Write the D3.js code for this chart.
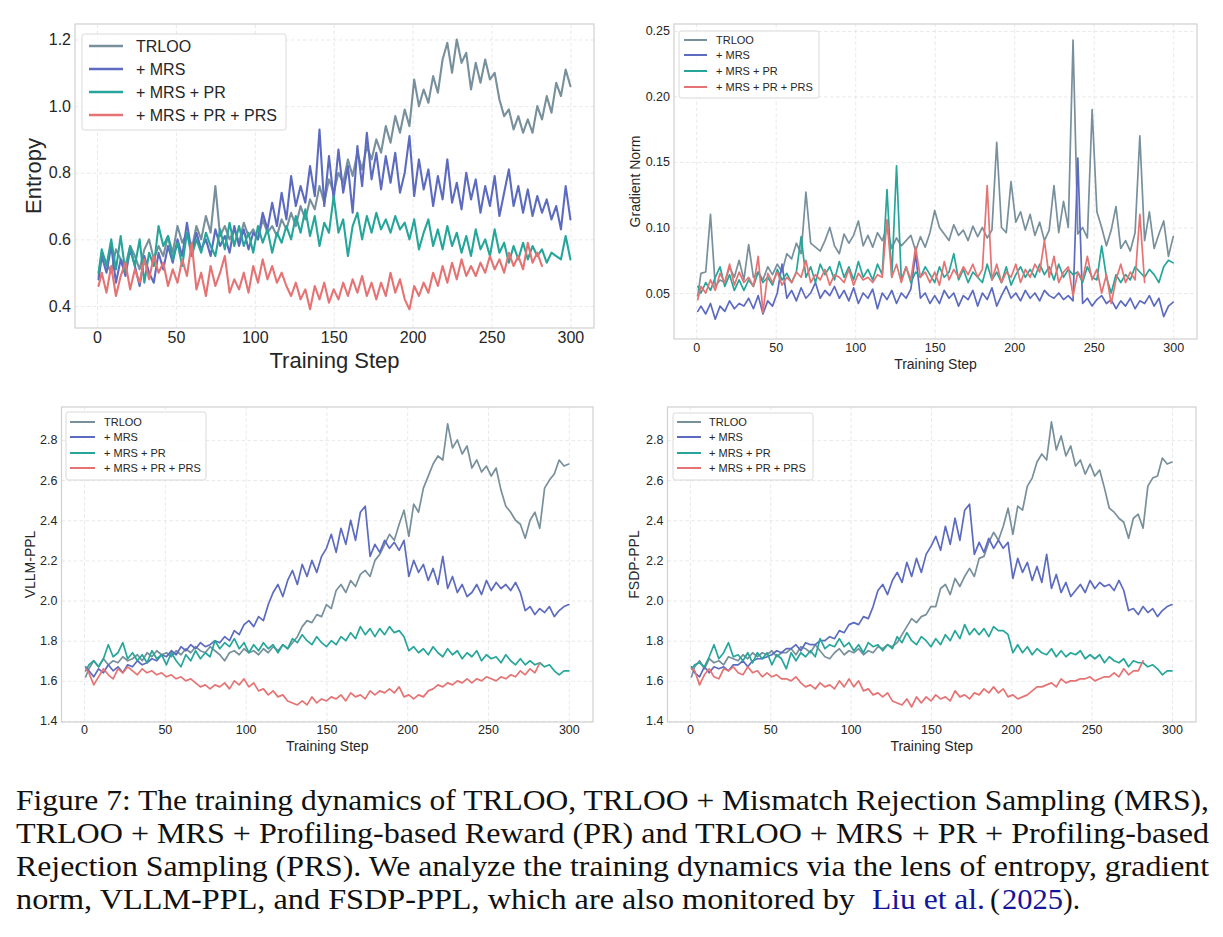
<!DOCTYPE html>
<html><head><meta charset="utf-8">
<script src="https://cdn.jsdelivr.net/npm/d3@7/dist/d3.min.js"></script>
<style>body{margin:0;background:#fff;} svg{display:block;}</style>
</head><body><svg id="c" width="1223" height="937"></svg>
<script>
// ---------- data ----------
const steps = [1,3,6,9,12,15,18,21,24,27, 30,33,36,39,42,45,48,51,54,57, 60,63,66,69,72,75,78,81,84,87, 90,93,96,99,102,105,108,111,114,117,
  120,123,126,129,132,135,138,141,144,147, 150,153,156,159,162,165,168,171,174,177, 180,183,186,189,192,195,198,201,204,207,
  210,213,216,219,222,225,228,231,234,237, 240,243,246,249,252,255,258,261,264,267, 270,273,276,279,282,285,288,291,294,297, 300];
const seriesNames = ["TRLOO", "+ MRS", "+ MRS + PR", "+ MRS + PR + PRS"];
const xTickValues = [0, 50, 100, 150, 200, 250, 300];

// Entropy
const entTRLOO = [0.49,0.56,0.53,0.50,0.57,0.54,0.52,0.58,0.55,0.51, 0.57,0.60,0.54,0.58,0.55,0.61,0.56,0.64,0.59,0.62,
  0.57,0.64,0.60,0.67,0.62,0.76,0.61,0.64,0.60,0.63, 0.59,0.65,0.61,0.63,0.60,0.66,0.62,0.64,0.61,0.66,
  0.63,0.68,0.64,0.70,0.66,0.72,0.69,0.76,0.71,0.78, 0.74,0.80,0.77,0.84,0.79,0.86,0.81,0.88,0.84,0.90,
  0.86,0.94,0.89,0.97,0.92,0.99,0.94,1.08,1.00,1.05, 1.01,1.09,1.04,1.14,1.19,1.10,1.20,1.13,1.16,1.05,
  1.13,1.07,1.14,1.08,1.10,1.02,0.97,0.99,0.93,0.97, 0.92,0.96,0.92,1.00,0.96,1.03,0.98,1.07,1.03,1.11, 1.06];
const entMRS = [0.48,0.55,0.50,0.58,0.47,0.54,0.49,0.57,0.52,0.46, 0.55,0.50,0.47,0.56,0.51,0.58,0.53,0.60,0.55,0.65,
  0.56,0.62,0.57,0.60,0.55,0.63,0.58,0.61,0.56,0.64, 0.58,0.63,0.57,0.62,0.60,0.68,0.63,0.71,0.64,0.74,
  0.66,0.79,0.70,0.76,0.71,0.82,0.73,0.93,0.70,0.85, 0.72,0.87,0.74,0.82,0.68,0.88,0.76,0.92,0.78,0.86,
  0.75,0.85,0.77,0.86,0.74,0.80,0.91,0.73,0.84,0.75, 0.81,0.70,0.79,0.72,0.84,0.71,0.77,0.69,0.80,0.72,
  0.78,0.68,0.76,0.70,0.79,0.67,0.74,0.81,0.70,0.76, 0.68,0.75,0.67,0.73,0.68,0.72,0.66,0.70,0.63,0.76, 0.66];
const entPR = [0.50,0.57,0.52,0.60,0.51,0.61,0.50,0.58,0.52,0.60, 0.47,0.56,0.52,0.64,0.58,0.61,0.54,0.59,0.52,0.62,
  0.55,0.60,0.56,0.62,0.58,0.55,0.63,0.57,0.65,0.58, 0.64,0.58,0.62,0.56,0.64,0.59,0.63,0.56,0.62,0.59,
  0.64,0.60,0.67,0.62,0.69,0.61,0.67,0.58,0.65,0.62, 0.73,0.62,0.66,0.55,0.64,0.68,0.60,0.67,0.62,0.68,
  0.63,0.66,0.62,0.67,0.63,0.65,0.60,0.66,0.57,0.62, 0.66,0.58,0.63,0.57,0.64,0.58,0.62,0.56,0.61,0.55,
  0.63,0.57,0.60,0.55,0.63,0.56,0.59,0.53,0.58,0.54, 0.59,0.54,0.58,0.55,0.57,0.53,0.56,0.55,0.54,0.61, 0.54];
const entPRS = [0.46,0.50,0.44,0.52,0.43,0.49,0.53,0.45,0.51,0.47, 0.54,0.48,0.55,0.50,0.53,0.46,0.51,0.47,0.54,0.49,
  0.59,0.45,0.50,0.43,0.52,0.46,0.50,0.55,0.44,0.48, 0.45,0.50,0.44,0.52,0.47,0.54,0.48,0.52,0.47,0.50,
  0.46,0.43,0.47,0.42,0.45,0.39,0.46,0.42,0.47,0.41, 0.45,0.42,0.47,0.43,0.48,0.44,0.49,0.43,0.47,0.42,
  0.47,0.43,0.50,0.44,0.48,0.42,0.39,0.46,0.43,0.47, 0.44,0.50,0.46,0.52,0.47,0.53,0.48,0.54,0.49,0.52,
  0.49,0.53,0.50,0.55,0.51,0.54,0.50,0.56,0.52,0.55, 0.51,0.59,0.53,0.56,0.52];

// Gradient norm
const gnTRLOO = [0.048,0.065,0.066,0.110,0.055,0.060,0.058,0.070,0.062,0.075, 0.060,0.087,0.062,0.066,0.060,0.070,0.064,0.072,0.066,0.080,
  0.076,0.088,0.080,0.127,0.088,0.085,0.082,0.090,0.100,0.086, 0.080,0.095,0.088,0.094,0.105,0.086,0.094,0.085,0.096,0.090,
  0.100,0.084,0.092,0.086,0.090,0.094,0.082,0.093,0.085,0.096, 0.113,0.100,0.095,0.090,0.102,0.094,0.098,0.090,0.101,0.093,
  0.100,0.092,0.098,0.165,0.100,0.096,0.135,0.104,0.112,0.098, 0.110,0.094,0.104,0.090,0.098,0.132,0.096,0.120,0.100,0.243,
  0.095,0.100,0.092,0.190,0.112,0.100,0.086,0.098,0.116,0.084, 0.090,0.082,0.096,0.170,0.090,0.112,0.084,0.095,0.105,0.078, 0.093];
const gnMRS = [0.036,0.040,0.034,0.042,0.030,0.040,0.036,0.044,0.038,0.042, 0.040,0.046,0.038,0.048,0.034,0.044,0.040,0.050,0.072,0.046,
  0.052,0.044,0.054,0.046,0.050,0.058,0.046,0.052,0.048,0.055, 0.046,0.052,0.044,0.054,0.042,0.050,0.046,0.053,0.038,0.050,
  0.045,0.052,0.042,0.050,0.046,0.053,0.080,0.046,0.050,0.042, 0.048,0.042,0.052,0.046,0.050,0.040,0.048,0.045,0.052,0.040,
  0.050,0.045,0.054,0.040,0.048,0.055,0.046,0.050,0.044,0.052, 0.046,0.050,0.044,0.052,0.048,0.046,0.050,0.045,0.048,0.044,
  0.153,0.042,0.046,0.040,0.045,0.048,0.042,0.045,0.038,0.044, 0.040,0.046,0.038,0.044,0.042,0.048,0.040,0.046,0.032,0.040, 0.043];
const gnPR = [0.055,0.050,0.058,0.052,0.062,0.070,0.055,0.064,0.052,0.060, 0.052,0.060,0.055,0.066,0.058,0.062,0.056,0.068,0.060,0.065,
  0.058,0.066,0.093,0.062,0.070,0.058,0.072,0.064,0.070,0.060, 0.074,0.062,0.070,0.060,0.074,0.062,0.068,0.060,0.072,0.064,
  0.129,0.062,0.147,0.060,0.070,0.058,0.066,0.062,0.070,0.064, 0.058,0.070,0.062,0.066,0.080,0.060,0.068,0.058,0.066,0.062,
  0.058,0.072,0.060,0.066,0.058,0.070,0.056,0.064,0.070,0.062, 0.068,0.062,0.072,0.064,0.070,0.060,0.072,0.062,0.068,0.064,
  0.066,0.058,0.070,0.062,0.060,0.086,0.062,0.050,0.064,0.058, 0.064,0.060,0.070,0.066,0.062,0.068,0.064,0.058,0.070,0.075, 0.073];
const gnPRS = [0.045,0.055,0.050,0.060,0.052,0.065,0.058,0.072,0.056,0.066, 0.058,0.062,0.055,0.078,0.035,0.065,0.058,0.066,0.056,0.062,
  0.058,0.066,0.062,0.075,0.058,0.064,0.060,0.068,0.056,0.064, 0.062,0.058,0.068,0.056,0.065,0.060,0.062,0.058,0.064,0.062,
  0.106,0.062,0.072,0.058,0.070,0.060,0.085,0.062,0.066,0.058, 0.066,0.056,0.074,0.060,0.068,0.062,0.070,0.064,0.072,0.062,
  0.068,0.132,0.060,0.072,0.058,0.066,0.062,0.072,0.058,0.068, 0.062,0.072,0.066,0.090,0.062,0.078,0.058,0.066,0.070,0.048,
  0.066,0.060,0.078,0.060,0.068,0.050,0.064,0.042,0.060,0.072, 0.058,0.066,0.060,0.110,0.058];

// VLLM-PPL
const vlTRLOO = [1.62,1.66,1.70,1.67,1.71,1.68,1.70,1.69,1.72,1.70, 1.71,1.73,1.70,1.74,1.72,1.75,1.73,1.74,1.72,1.75,
  1.73,1.76,1.74,1.77,1.75,1.74,1.77,1.75,1.73,1.70, 1.74,1.75,1.73,1.76,1.74,1.75,1.73,1.76,1.74,1.77,
  1.75,1.78,1.76,1.79,1.82,1.87,1.90,1.89,1.93,1.92, 1.98,1.96,2.05,2.08,2.04,2.10,2.07,2.13,2.15,2.12,
  2.20,2.23,2.28,2.33,2.30,2.38,2.45,2.32,2.48,2.44, 2.56,2.62,2.68,2.72,2.70,2.88,2.76,2.80,2.73,2.77,
  2.66,2.70,2.64,2.67,2.62,2.66,2.55,2.47,2.44,2.40, 2.38,2.31,2.40,2.44,2.36,2.56,2.60,2.63,2.70,2.67, 2.68];
const vlMRS = [1.67,1.65,1.62,1.66,1.64,1.68,1.65,1.67,1.64,1.68, 1.67,1.70,1.68,1.69,1.71,1.70,1.73,1.72,1.75,1.73,
  1.77,1.75,1.78,1.76,1.79,1.77,1.78,1.80,1.79,1.82, 1.80,1.85,1.83,1.88,1.90,1.87,1.92,1.90,1.98,2.04,
  2.08,2.02,2.10,2.15,2.08,2.18,2.12,2.20,2.14,2.22, 2.26,2.33,2.24,2.36,2.28,2.40,2.30,2.44,2.47,2.22,
  2.28,2.24,2.30,2.26,2.29,2.25,2.30,2.12,2.20,2.14, 2.18,2.10,2.16,2.08,2.22,2.06,2.12,2.04,2.08,2.02,
  2.04,2.08,2.03,2.10,2.05,2.09,2.06,2.08,2.05,2.09, 2.04,1.95,1.97,1.93,1.96,1.94,1.97,1.92,1.95,1.97, 1.98];
const vlPR = [1.65,1.68,1.70,1.67,1.71,1.78,1.72,1.74,1.79,1.71, 1.74,1.70,1.73,1.69,1.75,1.71,1.73,1.68,1.74,1.70,
  1.67,1.73,1.70,1.75,1.71,1.74,1.72,1.80,1.76,1.79, 1.77,1.81,1.76,1.79,1.74,1.78,1.75,1.79,1.76,1.78,
  1.74,1.78,1.76,1.81,1.79,1.83,1.80,1.78,1.82,1.79, 1.77,1.80,1.78,1.82,1.80,1.84,1.81,1.87,1.83,1.86,
  1.82,1.86,1.83,1.87,1.84,1.85,1.82,1.75,1.77,1.74, 1.76,1.73,1.77,1.74,1.72,1.76,1.73,1.75,1.71,1.74,
  1.72,1.75,1.70,1.73,1.71,1.72,1.69,1.73,1.70,1.68, 1.71,1.68,1.70,1.68,1.69,1.67,1.68,1.65,1.63,1.65, 1.65];
const vlPRS = [1.66,1.64,1.58,1.62,1.66,1.63,1.61,1.66,1.64,1.67, 1.65,1.63,1.66,1.64,1.65,1.63,1.64,1.62,1.63,1.61,
  1.62,1.60,1.61,1.59,1.57,1.58,1.56,1.58,1.57,1.59, 1.56,1.60,1.58,1.61,1.57,1.59,1.55,1.56,1.53,1.55,
  1.52,1.53,1.50,1.49,1.48,1.50,1.48,1.52,1.49,1.51, 1.50,1.52,1.51,1.53,1.50,1.54,1.52,1.53,1.51,1.55,
  1.53,1.55,1.54,1.56,1.54,1.57,1.52,1.53,1.51,1.53, 1.52,1.55,1.56,1.58,1.57,1.59,1.58,1.60,1.59,1.61,
  1.59,1.61,1.60,1.62,1.61,1.60,1.62,1.61,1.63,1.62, 1.65,1.63,1.66,1.64,1.69];

// FSDP-PPL
const fsTRLOO = [1.62,1.67,1.70,1.66,1.71,1.69,1.70,1.68,1.72,1.71, 1.70,1.73,1.71,1.74,1.72,1.74,1.73,1.75,1.72,1.74,
  1.74,1.76,1.73,1.77,1.76,1.74,1.78,1.75,1.72,1.71, 1.74,1.76,1.73,1.75,1.74,1.76,1.73,1.75,1.74,1.77,
  1.76,1.78,1.77,1.79,1.83,1.87,1.91,1.89,1.92,1.93, 1.97,1.97,2.06,2.08,2.03,2.11,2.07,2.12,2.16,2.12,
  2.21,2.22,2.29,2.34,2.30,2.37,2.46,2.33,2.47,2.45, 2.57,2.61,2.69,2.73,2.70,2.89,2.75,2.82,2.72,2.77,
  2.67,2.70,2.63,2.68,2.62,2.65,2.56,2.46,2.44,2.41, 2.39,2.31,2.41,2.43,2.36,2.57,2.61,2.62,2.71,2.68, 2.69];
const fsMRS = [1.67,1.64,1.62,1.67,1.64,1.67,1.66,1.67,1.65,1.68, 1.68,1.70,1.67,1.70,1.71,1.71,1.72,1.73,1.75,1.74,
  1.76,1.76,1.78,1.75,1.79,1.78,1.78,1.80,1.80,1.82, 1.81,1.85,1.84,1.88,1.89,1.88,1.92,1.91,1.97,2.05,
  2.08,2.03,2.10,2.14,2.09,2.19,2.12,2.21,2.14,2.23, 2.27,2.32,2.25,2.37,2.28,2.41,2.30,2.45,2.48,2.23,
  2.29,2.24,2.31,2.26,2.30,2.26,2.29,2.11,2.21,2.14, 2.19,2.10,2.17,2.09,2.23,2.06,2.13,2.04,2.09,2.02,
  2.05,2.08,2.04,2.10,2.06,2.09,2.07,2.08,2.05,2.10, 2.05,1.95,1.96,1.93,1.97,1.94,1.96,1.92,1.95,1.97, 1.98];
const fsPR = [1.66,1.68,1.69,1.67,1.72,1.78,1.71,1.74,1.79,1.72, 1.73,1.70,1.74,1.69,1.74,1.71,1.74,1.68,1.73,1.71,
  1.66,1.74,1.70,1.74,1.72,1.75,1.72,1.81,1.76,1.78, 1.77,1.81,1.77,1.79,1.75,1.78,1.74,1.79,1.77,1.78,
  1.75,1.78,1.76,1.82,1.79,1.84,1.80,1.78,1.82,1.80, 1.77,1.81,1.78,1.83,1.80,1.85,1.81,1.88,1.83,1.86,
  1.83,1.86,1.82,1.87,1.85,1.85,1.83,1.74,1.78,1.74, 1.77,1.73,1.76,1.74,1.73,1.76,1.72,1.75,1.72,1.74,
  1.73,1.75,1.71,1.73,1.71,1.73,1.69,1.72,1.70,1.69, 1.71,1.67,1.70,1.69,1.69,1.67,1.68,1.66,1.63,1.65, 1.65];
const fsPRS = [1.66,1.65,1.58,1.63,1.66,1.62,1.61,1.66,1.65,1.67, 1.64,1.63,1.67,1.64,1.65,1.62,1.64,1.62,1.63,1.61,
  1.61,1.60,1.62,1.59,1.57,1.58,1.56,1.59,1.57,1.58, 1.56,1.60,1.57,1.61,1.57,1.60,1.55,1.56,1.53,1.54,
  1.52,1.54,1.50,1.49,1.48,1.51,1.47,1.52,1.49,1.52, 1.50,1.53,1.51,1.52,1.50,1.55,1.52,1.53,1.51,1.54,
  1.53,1.56,1.54,1.57,1.54,1.56,1.52,1.53,1.51,1.52, 1.53,1.55,1.57,1.57,1.58,1.59,1.57,1.61,1.59,1.60,
  1.60,1.61,1.61,1.62,1.60,1.61,1.62,1.62,1.64,1.62, 1.66,1.63,1.65,1.65,1.70];

// ---------- style ----------
const colors = ["#78909c", "#5c6bc0", "#26a69a", "#e57373"];
const svg = d3.select("#c");
const FONT = "'Liberation Sans', Arial, sans-serif";

function drawPanel(cfg) {
  const g = svg.append("g");
  const x = d3.scaleLinear().domain([-13.95, 314.95]).range([cfg.left, cfg.right]);
  const y = d3.scaleLinear().domain(cfg.yDomain).range([cfg.bottom, cfg.top]);
  const w = cfg.right - cfg.left, h = cfg.bottom - cfg.top;

  g.append("rect").attr("x", cfg.left).attr("y", cfg.top).attr("width", w).attr("height", h).attr("fill", "#fff");

  const gx = g.append("g").attr("transform", `translate(0,${cfg.bottom})`)
    .call(d3.axisBottom(x).tickValues(xTickValues).tickSize(-h).tickFormat(""));
  const gy = g.append("g").attr("transform", `translate(${cfg.left},0)`)
    .call(d3.axisLeft(y).tickValues(cfg.yTicks).tickSize(-w).tickFormat(""));
  [gx, gy].forEach(a => {
    a.select(".domain").remove();
    a.selectAll("line").attr("stroke", "#e3e3e3").attr("stroke-width", 0.8).attr("stroke-dasharray", "3.5,2.5");
  });

  const line = d3.line().x(d => x(d[0])).y(d => y(d[1]));
  cfg.series.forEach((vals, i) => {
    const pts = vals.map((v, k) => [steps[k], v]);
    g.append("path").datum(pts).attr("d", line).attr("fill", "none")
      .attr("stroke", colors[i]).attr("stroke-width", cfg.lw)
      .attr("stroke-linejoin", "round").attr("stroke-linecap", "round");
  });

  g.append("rect").attr("x", cfg.left).attr("y", cfg.top).attr("width", w).attr("height", h)
    .attr("fill", "none").attr("stroke", "#d0d0d0").attr("stroke-width", 1.2);

  const ax = g.append("g").attr("transform", `translate(0,${cfg.bottom})`)
    .call(d3.axisBottom(x).tickValues(xTickValues).tickSize(0).tickPadding(cfg.xPad).tickFormat(d3.format("d")));
  const ay = g.append("g").attr("transform", `translate(${cfg.left},0)`)
    .call(d3.axisLeft(y).tickValues(cfg.yTicks).tickSize(0).tickPadding(4).tickFormat(d3.format(cfg.yFmt)));
  [ax, ay].forEach(a => {
    a.select(".domain").remove();
    a.selectAll("text").attr("font-family", FONT).attr("font-size", cfg.tickFs).attr("fill", "#262626");
  });

  g.append("text").attr("x", (cfg.left + cfg.right) / 2).attr("y", cfg.xlabY)
    .attr("text-anchor", "middle").attr("dominant-baseline", "central")
    .attr("font-family", FONT).attr("font-size", cfg.labFs).attr("fill", "#262626").text("Training Step");
  g.append("text").attr("transform", `translate(${cfg.ylabX},${(cfg.top + cfg.bottom) / 2}) rotate(-90)`)
    .attr("text-anchor", "middle").attr("dominant-baseline", "central")
    .attr("font-family", FONT).attr("font-size", cfg.labFs).attr("fill", "#262626").text(cfg.ylabel);

  const L = cfg.legend;
  const lg = g.append("g");
  lg.append("rect").attr("x", L.x).attr("y", L.y).attr("width", L.w).attr("height", L.h).attr("rx", 2.5)
    .attr("fill", "#fff").attr("fill-opacity", 0.85).attr("stroke", "#d9d9d9").attr("stroke-width", 1);
  seriesNames.forEach((name, i) => {
    const yy = L.rows[i];
    lg.append("line").attr("x1", L.lx1).attr("x2", L.lx2).attr("y1", yy).attr("y2", yy)
      .attr("stroke", colors[i]).attr("stroke-width", cfg.lw + 0.3);
    lg.append("text").attr("x", L.tx).attr("y", yy).attr("dominant-baseline", "central")
      .attr("font-family", FONT).attr("font-size", L.fs).attr("fill", "#262626").text(name);
  });
}

drawPanel({
  left: 75, right: 594, top: 24, bottom: 328,
  yDomain: [0.334, 1.2465], yTicks: [0.4, 0.6, 0.8, 1.0, 1.2], yFmt: ".1f",
  series: [entTRLOO, entMRS, entPR, entPRS], lw: 2.1,
  tickFs: 16, labFs: 22, xPad: 4, xlabY: 360, ylabX: 33, ylabel: "Entropy",
  legend: {x: 82, y: 34, w: 204, h: 96, rows: [46, 69, 92, 115], lx1: 89, lx2: 123, tx: 136, fs: 16}
});
drawPanel({
  left: 674, right: 1197, top: 24, bottom: 339,
  yDomain: [0.0149, 0.2553], yTicks: [0.05, 0.10, 0.15, 0.20, 0.25], yFmt: ".2f",
  series: [gnTRLOO, gnMRS, gnPR, gnPRS], lw: 1.7,
  tickFs: 12.5, labFs: 14, xPad: 4, xlabY: 364, ylabX: 635, ylabel: "Gradient Norm",
  legend: {x: 679, y: 31, w: 140, h: 67, rows: [40, 55, 71, 87], lx1: 684, lx2: 707, tx: 716, fs: 11}
});
drawPanel({
  left: 61.5, right: 593, top: 407, bottom: 722,
  yDomain: [1.395, 2.964], yTicks: [1.4, 1.6, 1.8, 2.0, 2.2, 2.4, 2.6, 2.8], yFmt: ".1f",
  series: [vlTRLOO, vlMRS, vlPR, vlPRS], lw: 1.7,
  tickFs: 12.5, labFs: 14, xPad: 3.5, xlabY: 746, ylabX: 30, ylabel: "VLLM-PPL",
  legend: {x: 66, y: 412, w: 140, h: 68, rows: [422, 437, 453, 468], lx1: 70, lx2: 95, tx: 104, fs: 11}
});
drawPanel({
  left: 667.5, right: 1196, top: 407, bottom: 722,
  yDomain: [1.395, 2.964], yTicks: [1.4, 1.6, 1.8, 2.0, 2.2, 2.4, 2.6, 2.8], yFmt: ".1f",
  series: [fsTRLOO, fsMRS, fsPR, fsPRS], lw: 1.7,
  tickFs: 12.5, labFs: 14, xPad: 3.5, xlabY: 746, ylabX: 634, ylabel: "FSDP-PPL",
  legend: {x: 673, y: 413, w: 140, h: 67, rows: [422, 437, 453, 468], lx1: 677, lx2: 701, tx: 709, fs: 11}
});

// caption
const SERIF = "'Liberation Serif', 'DejaVu Serif', serif";
const capLines = [
  {t: "Figure 7: The training dynamics of TRLOO, TRLOO + Mismatch Rejection Sampling (MRS),", x: 16, x2: 1209, y: 810},
  {t: "TRLOO + MRS + Profiling-based Reward (PR) and TRLOO + MRS + PR + Profiling-based", x: 16, x2: 1209, y: 843},
  {t: "Rejection Sampling (PRS). We analyze the training dynamics via the lens of entropy, gradient", x: 16, x2: 1209, y: 876},
  {t: "norm, VLLM-PPL, and FSDP-PPL, which are also monitored by", x: 16, x2: 855, y: 909},
  {t: "Liu et al.", x: 872, x2: 985, y: 909, c: "#15159a"},
  {t: "(", x: 990, x2: 1000, y: 909},
  {t: "2025", x: 1002, x2: 1063, y: 909, c: "#15159a"},
  {t: ").", x: 1063, x2: 1080, y: 909}
];
capLines.forEach(l => {
  svg.append("text").attr("x", l.x).attr("y", l.y)
    .attr("font-family", SERIF).attr("font-size", 29).attr("fill", l.c || "#111")
    .attr("textLength", l.x2 - l.x).attr("lengthAdjust", "spacingAndGlyphs").text(l.t);
});
</script>
</body></html>
